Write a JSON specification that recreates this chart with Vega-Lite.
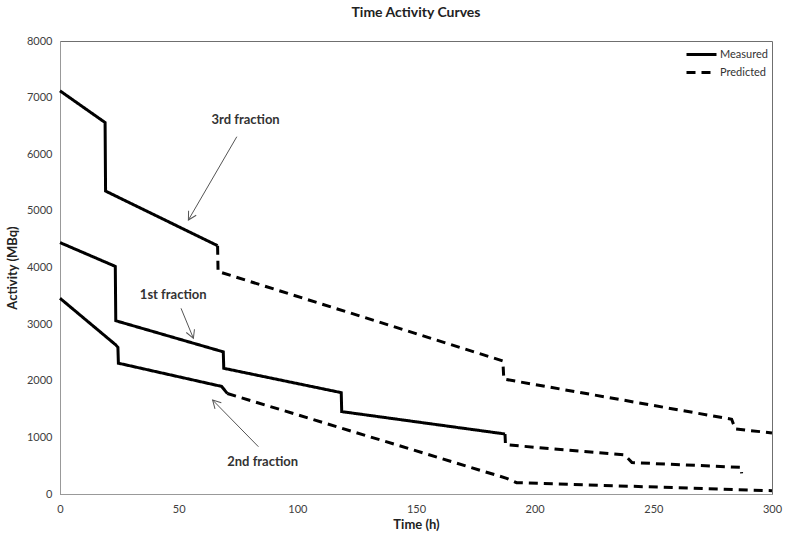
{
  "$schema": "https://vega.github.io/schema/vega-lite/v6.json",
  "width": 712,
  "height": 453,
  "autosize": "none",
  "padding": {"left": 60, "top": 41, "right": 15, "bottom": 42},
  "background": "white",
  "config": {"font": "Lato", "view": {"stroke": "#6f6f6f", "strokeWidth": 1}},
  "title": {"text": "Time Activity Curves", "fontSize": 14, "fontWeight": "bold", "color": "#222222", "offset": 15, "anchor": "middle"},
  "datasets": {
    "curves": [
      {"fraction": "3rd", "type": "Measured", "time": 0, "activity": 7120},
      {"fraction": "3rd", "type": "Measured", "time": 19.0, "activity": 6560},
      {"fraction": "3rd", "type": "Measured", "time": 19.2, "activity": 5350},
      {"fraction": "3rd", "type": "Measured", "time": 66.4, "activity": 4385},
      {"fraction": "3rd", "type": "Predicted", "time": 66.4, "activity": 4385},
      {"fraction": "3rd", "type": "Predicted", "time": 66.6, "activity": 3930},
      {"fraction": "3rd", "type": "Predicted", "time": 186.6, "activity": 2350},
      {"fraction": "3rd", "type": "Predicted", "time": 187.0, "activity": 2030},
      {"fraction": "3rd", "type": "Predicted", "time": 283.0, "activity": 1320},
      {"fraction": "3rd", "type": "Predicted", "time": 284.5, "activity": 1150},
      {"fraction": "3rd", "type": "Predicted", "time": 300, "activity": 1078},
      {"fraction": "1st", "type": "Measured", "time": 0, "activity": 4440},
      {"fraction": "1st", "type": "Measured", "time": 23.3, "activity": 4020},
      {"fraction": "1st", "type": "Measured", "time": 23.5, "activity": 3060},
      {"fraction": "1st", "type": "Measured", "time": 68.8, "activity": 2510},
      {"fraction": "1st", "type": "Measured", "time": 69.0, "activity": 2220},
      {"fraction": "1st", "type": "Measured", "time": 118.5, "activity": 1790},
      {"fraction": "1st", "type": "Measured", "time": 118.7, "activity": 1455},
      {"fraction": "1st", "type": "Measured", "time": 187.5, "activity": 1060},
      {"fraction": "1st", "type": "Predicted", "time": 187.5, "activity": 1060},
      {"fraction": "1st", "type": "Predicted", "time": 187.7, "activity": 870},
      {"fraction": "1st", "type": "Predicted", "time": 238.0, "activity": 690},
      {"fraction": "1st", "type": "Predicted", "time": 241.0, "activity": 555},
      {"fraction": "1st", "type": "Predicted", "time": 287.0, "activity": 470},
      {"fraction": "1st", "type": "Predicted", "time": 287.2, "activity": 365},
      {"fraction": "2nd", "type": "Measured", "time": 0, "activity": 3457},
      {"fraction": "2nd", "type": "Measured", "time": 23.5, "activity": 2633},
      {"fraction": "2nd", "type": "Measured", "time": 24.4, "activity": 2590},
      {"fraction": "2nd", "type": "Measured", "time": 24.6, "activity": 2310},
      {"fraction": "2nd", "type": "Measured", "time": 68.1, "activity": 1900},
      {"fraction": "2nd", "type": "Measured", "time": 70.5, "activity": 1775},
      {"fraction": "2nd", "type": "Predicted", "time": 70.5, "activity": 1775},
      {"fraction": "2nd", "type": "Predicted", "time": 188.2, "activity": 277},
      {"fraction": "2nd", "type": "Predicted", "time": 192.4, "activity": 200},
      {"fraction": "2nd", "type": "Predicted", "time": 300, "activity": 58}
    ],
    "notes": [
      {"label": "3rd fraction", "time": 78.2, "activity": 6605},
      {"label": "1st fraction", "time": 47.7, "activity": 3514},
      {"label": "2nd fraction", "time": 85.4, "activity": 570}
    ],
    "arrows": [
      {"label": "3rd fraction", "t0": 74.5, "a0": 6310, "t1": 54.1, "a1": 4839},
      {"label": "1st fraction", "t0": 51.0, "a0": 3279, "t1": 56.2, "a1": 2750},
      {"label": "2nd fraction", "t0": 83.6, "a0": 835, "t1": 64.3, "a1": 1660}
    ]
  },
  "layer": [
    {
      "data": {"name": "curves"},
      "mark": {"type": "line", "color": "black", "strokeWidth": 3, "strokeCap": "butt", "strokeJoin": "miter"},
      "encoding": {
        "x": {"field": "time", "type": "quantitative", "scale": {"domain": [0, 300], "nice": false},
              "axis": {"title": "Time (h)", "values": [0, 50, 100, 150, 200, 250, 300], "grid": false, "ticks": false, "domainColor": "#999999", "labelFontSize": 11, "labelColor": "#404040", "labelPadding": 9, "labelFlush": false, "titleFontSize": 13, "titleFontWeight": "bold", "titleColor": "#222222", "titlePadding": 4}},
        "y": {"field": "activity", "type": "quantitative", "scale": {"domain": [0, 8000], "nice": false},
              "axis": {"title": "Activity (MBq)", "format": "d", "values": [0, 1000, 2000, 3000, 4000, 5000, 6000, 7000, 8000], "grid": false, "ticks": false, "domainColor": "#999999", "labelFontSize": 11, "labelColor": "#404040", "labelPadding": 8, "labelFlush": false, "titleFontSize": 13, "titleFontWeight": "bold", "titleColor": "#222222", "titlePadding": 7}},
        "detail": {"field": "fraction", "type": "nominal"},
        "strokeDash": {"field": "type", "type": "nominal",
          "scale": {"domain": ["Measured", "Predicted"], "range": [[1, 0], [9, 6]]},
          "legend": {"title": null, "orient": "none", "legendX": 630, "legendY": 2, "symbolType": "M-1.5,0H1.5", "symbolSize": 400, "symbolStrokeWidth": 3, "symbolStrokeColor": "black", "labelFontSize": 11, "labelColor": "#333333", "labelOffset": 7, "rowPadding": 0}}
      }
    },
    {
      "data": {"name": "arrows"},
      "mark": {"type": "rule", "color": "#555555", "strokeWidth": 1},
      "encoding": {
        "x": {"field": "t0", "type": "quantitative"},
        "y": {"field": "a0", "type": "quantitative"},
        "x2": {"field": "t1"},
        "y2": {"field": "a1"}
      }
    },
    {
      "data": {"name": "arrows"},
      "transform": [{"filter": "datum.label == '3rd fraction'"}],
      "mark": {"type": "point", "shape": "M-0.55,1L0,0L0.55,1", "size": 256, "filled": false, "color": "#555555", "strokeWidth": 1, "opacity": 1, "angle": 210},
      "encoding": {"x": {"field": "t1", "type": "quantitative"}, "y": {"field": "a1", "type": "quantitative"}}
    },
    {
      "data": {"name": "arrows"},
      "transform": [{"filter": "datum.label == '1st fraction'"}],
      "mark": {"type": "point", "shape": "M-0.55,1L0,0L0.55,1", "size": 256, "filled": false, "color": "#555555", "strokeWidth": 1, "opacity": 1, "angle": 158},
      "encoding": {"x": {"field": "t1", "type": "quantitative"}, "y": {"field": "a1", "type": "quantitative"}}
    },
    {
      "data": {"name": "arrows"},
      "transform": [{"filter": "datum.label == '2nd fraction'"}],
      "mark": {"type": "point", "shape": "M-0.55,1L0,0L0.55,1", "size": 256, "filled": false, "color": "#555555", "strokeWidth": 1, "opacity": 1, "angle": 316},
      "encoding": {"x": {"field": "t1", "type": "quantitative"}, "y": {"field": "a1", "type": "quantitative"}}
    },
    {
      "data": {"name": "notes"},
      "mark": {"type": "text", "fontWeight": "bold", "fontSize": 13, "color": "#333333"},
      "encoding": {
        "x": {"field": "time", "type": "quantitative"},
        "y": {"field": "activity", "type": "quantitative"},
        "text": {"field": "label", "type": "nominal"}
      }
    }
  ]
}
